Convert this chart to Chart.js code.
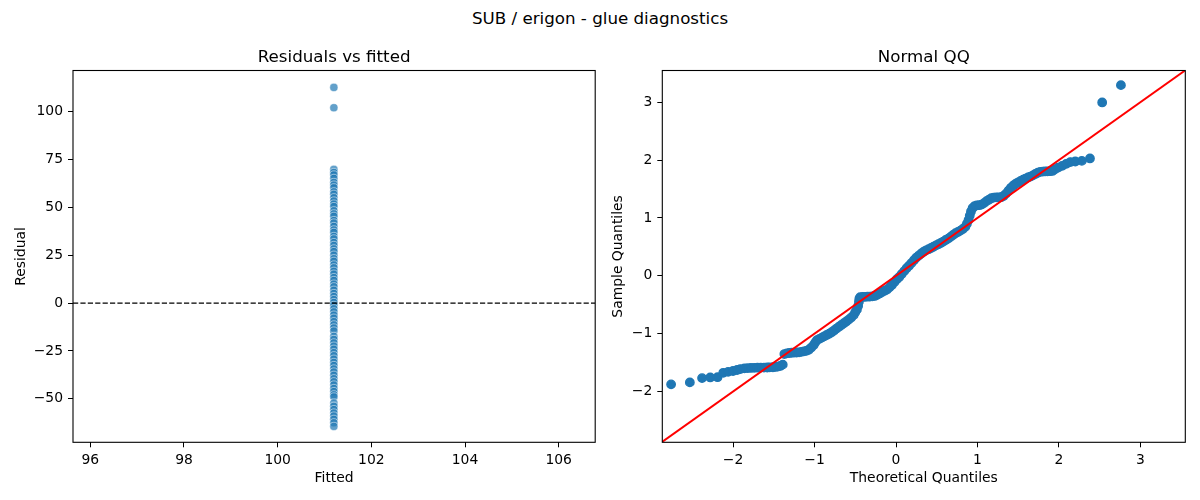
<!DOCTYPE html>
<html lang="en">
<head>
    <meta charset="UTF-8">
    <title>SUB / erigon - glue diagnostics</title>
    <style>
        html, body { margin: 0; padding: 0; background: #fff; overflow: hidden; }
        .figure { position: relative; width: 1200px; height: 500px; font-family: "DejaVu Sans", sans-serif; }
        .suptitle { position: absolute; left: 0; top: 8px; width: 1200px; text-align: center;
                    font-size: 16.7px; line-height: 20px; color: #000; }
        .panel { position: absolute; top: 0; width: 600px; height: 500px; }
        #residPanel { left: 0; }
        #qqPanel { left: 600px; }
    </style>
    <script src="https://cdn.jsdelivr.net/npm/chart.js"></script>
</head>
<body>
    <div class="figure">
        <div class="suptitle">SUB / erigon - glue diagnostics</div>
        <div class="panel" id="residPanel"><canvas id="residChart"></canvas></div>
        <div class="panel" id="qqPanel"><canvas id="qqChart"></canvas></div>
    </div>

    <script>
        // Residuals vs fitted: every point sits on the same fitted value
        const fittedValue = 101.2;
        const residuals = [
            112.6, 102.0, 69.8, 68.2, 66.9, 65.1, 63.0, 61.6, 60.2, 58.1, 56.8, 55.0, 53.3, 51.7,
            50.4, 48.2, 46.6, 45.3, 43.1, 41.8, 40.0, 38.2, 36.9, 34.8, 33.5, 31.6, 30.1, 28.3,
            26.9, 25.0, 23.2, 21.8, 19.9, 18.4, 16.6, 15.1, 13.3, 11.8, 9.9, 8.5, 6.7, 5.0, 3.4,
            1.8, 0.3, -1.2, -3.0, -4.6, -6.3, -7.9, -9.7, -11.4, -13.0, -14.6, -17.4, -19.0,
            -20.8, -22.5, -24.1, -25.9, -27.5, -29.3, -31.0, -32.6, -34.4, -36.0, -37.7, -39.5,
            -41.1, -42.8, -44.6, -46.2, -47.9, -49.0, -52.2, -53.9, -55.6, -57.4, -59.0, -60.7,
            -62.5, -64.4
        ];
        const fittedTicks = [96, 98, 100, 102, 104, 106];
        const residualTicks = [-50, -25, 0, 25, 50, 75, 100];

        // Normal QQ: theoretical vs sample quantiles
        const theoreticalQ = [
            -2.76, -2.53, -2.38, -2.28, -2.19, -2.12, -2.06, -2.00, -1.95, -1.91,
            -1.86, -1.82, -1.78, -1.74, -1.70, -1.66, -1.62, -1.58, -1.55, -1.51,
            -1.48, -1.45, -1.42, -1.39, -1.37, -1.34, -1.31, -1.28, -1.25, -1.22,
            -1.19, -1.16, -1.13, -1.10, -1.07, -1.04, -1.01, -0.99, -0.97, -0.94,
            -0.91, -0.88, -0.85, -0.82, -0.79, -0.76, -0.73, -0.70, -0.67, -0.64,
            -0.61, -0.58, -0.55, -0.52, -0.50, -0.48, -0.465, -0.455, -0.45, -0.44,
            -0.41, -0.38, -0.35, -0.32, -0.29, -0.26, -0.23, -0.20, -0.17, -0.14,
            -0.11, -0.08, -0.05, -0.02, 0.01, 0.04, 0.07, 0.10, 0.13, 0.16,
            0.19, 0.22, 0.25, 0.28, 0.31, 0.34, 0.37, 0.40, 0.43, 0.46,
            0.49, 0.52, 0.55, 0.58, 0.61, 0.64, 0.67, 0.70, 0.73, 0.76,
            0.79, 0.82, 0.85, 0.87, 0.89, 0.905, 0.92, 0.94, 0.965, 0.99,
            1.02, 1.05, 1.08, 1.11, 1.14, 1.17, 1.20, 1.23, 1.26, 1.29,
            1.32, 1.35, 1.38, 1.41, 1.44, 1.47, 1.50, 1.53, 1.56, 1.59,
            1.62, 1.65, 1.68, 1.71, 1.74, 1.77, 1.80, 1.83, 1.86, 1.89,
            1.92, 1.95, 1.99, 2.04, 2.09, 2.14, 2.20, 2.28, 2.38, 2.53,
            2.76
        ];
        const sampleQ = [
            -1.876, -1.842, -1.768, -1.756, -1.752, -1.676, -1.660, -1.645, -1.628, -1.611,
            -1.600, -1.596, -1.592, -1.590, -1.588, -1.587, -1.586, -1.585, -1.583, -1.580,
            -1.575, -1.568, -1.558, -1.535, -1.352, -1.340, -1.334, -1.330, -1.327, -1.325,
            -1.322, -1.315, -1.305, -1.296, -1.278, -1.240, -1.195, -1.150, -1.112, -1.090,
            -1.068, -1.046, -1.022, -1.000, -0.975, -0.945, -0.912, -0.880, -0.850, -0.820,
            -0.790, -0.757, -0.722, -0.680, -0.630, -0.585, -0.520, -0.450, -0.395, -0.370,
            -0.366, -0.363, -0.361, -0.359, -0.356, -0.348, -0.330, -0.305, -0.280, -0.258,
            -0.238, -0.200, -0.160, -0.110, -0.060, -0.020, 0.030, 0.080, 0.130, 0.175,
            0.220, 0.270, 0.315, 0.350, 0.385, 0.415, 0.440, 0.460, 0.480, 0.502,
            0.525, 0.545, 0.568, 0.592, 0.618, 0.642, 0.672, 0.705, 0.735, 0.758,
            0.780, 0.808, 0.845, 0.900, 0.965, 1.040, 1.110, 1.170, 1.205, 1.215,
            1.220, 1.230, 1.255, 1.290, 1.315, 1.340, 1.352, 1.355, 1.356, 1.358,
            1.380, 1.420, 1.470, 1.520, 1.560, 1.590, 1.615, 1.640, 1.660, 1.680,
            1.700, 1.715, 1.735, 1.760, 1.780, 1.795, 1.800, 1.803, 1.805, 1.807,
            1.812, 1.840, 1.870, 1.900, 1.935, 1.965, 1.975, 1.985, 2.028, 2.995,
            3.294
        ];
        const qqTicks = [-2, -1, 0, 1, 2, 3];

        // Axis limits as matplotlib chose them
        const fittedRange = [95.63, 106.78];
        const residualRange = [-72.7, 121.45];
        const theoreticalRange = [-2.868, 3.55];
        const sampleRange = [-2.877, 3.547];

        const FONT = '"DejaVu Sans", sans-serif';
        Chart.defaults.font.family = FONT;
        Chart.defaults.color = '#000';

        const minusFmt = v => (v < 0 ? '\u2212' : '') + Math.abs(v);

        // box around the plot area plus the subplot title
        const framePlugin = {
            id: 'frame',
            afterDraw(chart, args, opts) {
                const { ctx, chartArea: a } = chart;
                ctx.save();
                ctx.strokeStyle = '#000';
                ctx.lineWidth = 1.1;
                ctx.strokeRect(a.left, a.top, a.right - a.left, a.bottom - a.top);
                ctx.fillStyle = '#000';
                ctx.font = '16.7px ' + FONT;
                ctx.textAlign = 'center';
                ctx.textBaseline = 'alphabetic';
                ctx.fillText(opts.text, (a.left + a.right) / 2, a.top - 8.3);
                ctx.restore();
            }
        };

        function axis(range, ticks, title, titlePad, size, isX) {
            return {
                type: 'linear',
                min: range[0],
                max: range[1],
                afterBuildTicks: scale => { scale.ticks = ticks.map(v => ({ value: v })); },
                afterFit: scale => { if (isX) scale.height = size; else scale.width = size; },
                grid: { display: true, drawOnChartArea: false, drawTicks: true, tickLength: 5, tickColor: '#000', tickWidth: 1 },
                border: { display: false },
                ticks: { autoSkip: false, maxRotation: 0, padding: 5, font: { size: 13.9 }, color: '#000', callback: v => minusFmt(v) },
                title: { display: true, text: title, font: { size: 13.9 }, color: '#000', padding: isX ? { top: 0, bottom: titlePad } : { top: titlePad, bottom: 0 } }
            };
        }

        const baseOptions = (padRight, titleText) => ({
            responsive: true,
            maintainAspectRatio: false,
            animation: false,
            layout: { padding: { top: 70.5, right: padRight, bottom: 0, left: 0 } },
            plugins: { legend: { display: false }, tooltip: { enabled: false }, frame: { text: titleText } }
        });

        // Left panel
        const residOptions = baseOptions(1.5, 'Residuals vs fitted');
        residOptions.scales = {
            x: axis(fittedRange, fittedTicks, 'Fitted', 13.7, 57.7, true),
            y: axis(residualRange, residualTicks, 'Residual', 13.4, 73, false)
        };
        new Chart(document.getElementById('residChart'), {
            type: 'scatter',
            data: {
                datasets: [
                    {
                        data: [{ x: fittedRange[0], y: 0 }, { x: fittedRange[1], y: 0 }],
                        showLine: true,
                        borderColor: '#000',
                        borderWidth: 1.4,
                        borderDash: [5.2, 2.2],
                        pointRadius: 0,
                        order: 0
                    },
                    {
                        data: residuals.map(r => ({ x: fittedValue, y: r })),
                        backgroundColor: 'rgba(31,119,180,0.7)',
                        borderColor: 'rgba(255,255,255,0.7)',
                        borderWidth: 0.7,
                        pointRadius: 4.1,
                        order: 1
                    }
                ]
            },
            options: residOptions,
            plugins: [framePlugin]
        });

        // Right panel
        const qqOptions = baseOptions(14.7, 'Normal QQ');
        qqOptions.scales = {
            x: axis(theoreticalRange, qqTicks, 'Theoretical Quantiles', 13.7, 57.7, true),
            y: axis(sampleRange, qqTicks, 'Sample Quantiles', 9.7, 62.3, false)
        };
        new Chart(document.getElementById('qqChart'), {
            type: 'scatter',
            data: {
                datasets: [
                    {
                        data: [{ x: -3, y: -3 }, { x: 4, y: 4 }],
                        showLine: true,
                        borderColor: '#ff0000',
                        borderWidth: 2,
                        pointRadius: 0,
                        order: 0
                    },
                    {
                        data: theoreticalQ.map((t, i) => ({ x: t, y: sampleQ[i] })),
                        backgroundColor: '#1f77b4',
                        borderColor: '#1f77b4',
                        borderWidth: 1.4,
                        pointRadius: 4.2,
                        order: 1
                    }
                ]
            },
            options: qqOptions,
            plugins: [framePlugin]
        });
    </script>
</body>
</html>
